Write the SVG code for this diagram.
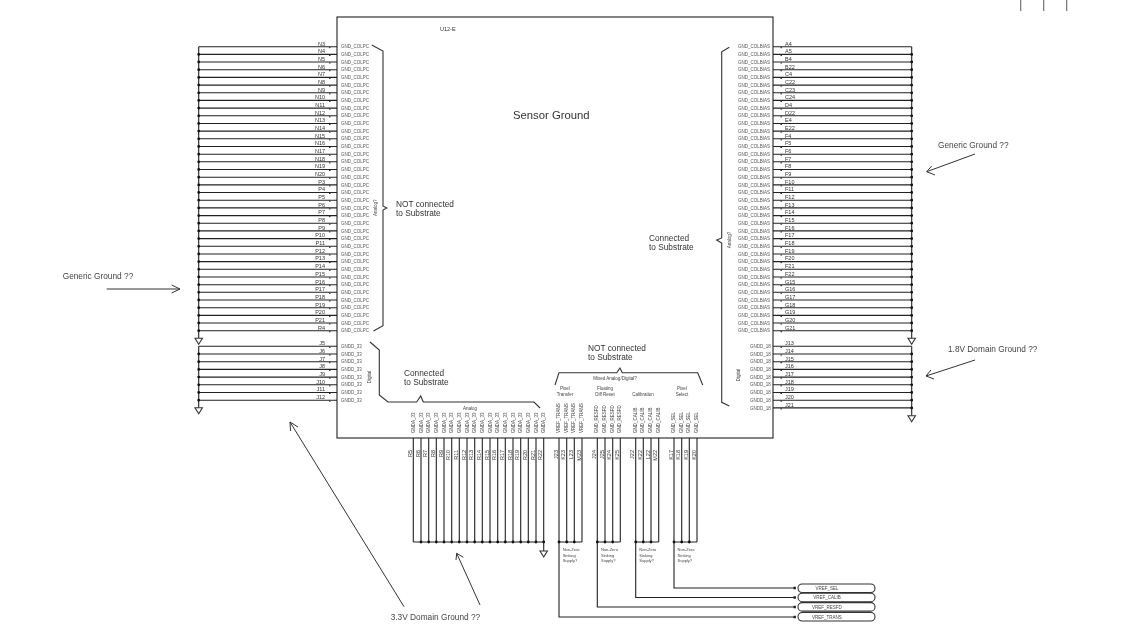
<svg xmlns="http://www.w3.org/2000/svg" width="1140" height="639" viewBox="0 0 1140 639">
<defs><filter id="soft" filterUnits="userSpaceOnUse" x="0" y="0" width="1140" height="639" color-interpolation-filters="sRGB"><feGaussianBlur stdDeviation="0.3"/></filter></defs>
<style>
text{font-family:"Liberation Sans",Arial,sans-serif;fill:#333}
.w{stroke:#222;stroke-width:1.1;fill:none}
.b{stroke:#333;stroke-width:1.1;fill:none}
.d{stroke:#111;stroke-width:2.8;stroke-linecap:round;fill:none}
.t{stroke:#222;stroke-width:1;fill:none}
.g{stroke:#333;stroke-width:1.1;fill:#fff}
.p{font-size:5.5px;fill:#333}
.r{text-anchor:end}
.n{font-size:4.5px;fill:#555}
.m{font-size:4.5px;fill:#444}
.s{font-size:4px;fill:#444}
.c{font-size:4.5px;fill:#444;text-anchor:middle}
.l{font-size:8.300px;fill:#333}
.x{font-size:8.300px;fill:#444}
.a{stroke:#333;stroke-width:1;fill:none}
</style>
<rect width="1140" height="639" fill="#fff"/>
<g filter="url(#soft)">
<g id="connectors">
<g id="left-wires" class="w">
<path d="M198.7 46.7H337M198.7 54.4H337M198.7 62H337M198.7 69.7H337M198.7 77.4H337M198.7 85.1H337M198.7 92.8H337M198.7 100.4H337M198.7 108.1H337M198.7 115.8H337M198.7 123.5H337M198.7 131.1H337M198.7 138.8H337M198.7 146.5H337M198.7 154.2H337M198.7 161.8H337M198.7 169.5H337M198.7 177.2H337M198.7 184.9H337M198.7 192.5H337M198.7 200.2H337M198.7 207.9H337M198.7 215.6H337M198.7 223.2H337M198.7 230.9H337M198.7 238.6H337M198.7 246.3H337M198.7 254H337M198.7 261.6H337M198.7 269.3H337M198.7 277H337M198.7 284.7H337M198.7 292.3H337M198.7 300H337M198.7 307.7H337M198.7 315.4H337M198.7 323H337M198.7 330.7H337"/>
<path d="M198.7 346.3H337M198.7 354H337M198.7 361.7H337M198.7 369.4H337M198.7 377.1H337M198.7 384.8H337M198.7 392.5H337M198.7 400.2H337"/>
<path d="M198.7 46.7V338M198.7 346.3V407.7"/>
</g>
<path class="d" d="M198.7 54.4h0M198.7 62h0M198.7 69.7h0M198.7 77.4h0M198.7 85.1h0M198.7 92.8h0M198.7 100.4h0M198.7 108.1h0M198.7 115.8h0M198.7 123.5h0M198.7 131.1h0M198.7 138.8h0M198.7 146.5h0M198.7 154.2h0M198.7 161.8h0M198.7 169.5h0M198.7 177.2h0M198.7 184.9h0M198.7 192.5h0M198.7 200.2h0M198.7 207.9h0M198.7 215.6h0M198.7 223.2h0M198.7 230.9h0M198.7 238.6h0M198.7 246.3h0M198.7 254h0M198.7 261.6h0M198.7 269.3h0M198.7 277h0M198.7 284.7h0M198.7 292.3h0M198.7 300h0M198.7 307.7h0M198.7 315.4h0M198.7 323h0M198.7 330.7h0M198.7 354h0M198.7 361.7h0M198.7 369.4h0M198.7 377.1h0M198.7 384.8h0M198.7 392.5h0M198.7 400.2h0"/>
<path class="t" d="M329 47.700h1.500M329 55.400h1.500M329 63h1.500M329 70.700h1.500M329 78.400h1.500M329 86.100h1.500M329 93.800h1.500M329 101.400h1.500M329 109.100h1.500M329 116.800h1.500M329 124.500h1.500M329 132.100h1.500M329 139.800h1.500M329 147.500h1.500M329 155.200h1.500M329 162.800h1.500M329 170.500h1.500M329 178.200h1.500M329 185.900h1.500M329 193.500h1.500M329 201.200h1.500M329 208.900h1.500M329 216.600h1.500M329 224.200h1.500M329 231.900h1.500M329 239.600h1.500M329 247.300h1.500M329 255h1.500M329 262.600h1.500M329 270.300h1.500M329 278h1.500M329 285.700h1.500M329 293.300h1.500M329 301h1.500M329 308.700h1.500M329 316.400h1.500M329 324h1.500M329 331.700h1.500M329 347.300h1.500M329 355h1.500M329 362.700h1.500M329 370.400h1.500M329 378.100h1.500M329 385.800h1.500M329 393.500h1.500M329 401.200h1.500"/>
<path class="t" d="M780.500 47.700h1.500M780.500 55.400h1.500M780.500 63h1.500M780.500 70.700h1.500M780.500 78.400h1.500M780.500 86.100h1.500M780.500 93.800h1.500M780.500 101.400h1.500M780.500 109.100h1.500M780.500 116.800h1.500M780.500 124.500h1.500M780.500 132.100h1.500M780.500 139.800h1.500M780.500 147.500h1.500M780.500 155.200h1.500M780.500 162.800h1.500M780.500 170.500h1.500M780.500 178.200h1.500M780.500 185.900h1.500M780.500 193.500h1.500M780.500 201.200h1.500M780.500 208.900h1.500M780.500 216.600h1.500M780.500 224.200h1.500M780.500 231.900h1.500M780.500 239.600h1.500M780.500 247.300h1.500M780.500 255h1.500M780.500 262.600h1.500M780.500 270.300h1.500M780.500 278h1.500M780.500 285.700h1.500M780.500 293.300h1.500M780.500 301h1.500M780.500 308.700h1.500M780.500 316.400h1.500M780.500 324h1.500M780.500 331.700h1.500M780.500 347.300h1.500M780.500 355h1.500M780.500 362.700h1.500M780.500 370.400h1.500M780.500 378.100h1.500M780.500 385.800h1.500M780.500 393.500h1.500M780.500 401.200h1.500M780.500 408.900h1.500"/>
<path class="g" d="M195 338.300h7.400l-3.700 6zM195 407.700h7.400l-3.700 6z"/>
<g id="right-wires" class="w">
<path d="M773 46.7H911.7M773 54.4H911.7M773 62H911.7M773 69.7H911.7M773 77.4H911.7M773 85.1H911.7M773 92.8H911.7M773 100.4H911.7M773 108.1H911.7M773 115.8H911.7M773 123.5H911.7M773 131.1H911.7M773 138.8H911.7M773 146.5H911.7M773 154.2H911.7M773 161.8H911.7M773 169.5H911.7M773 177.2H911.7M773 184.9H911.7M773 192.5H911.7M773 200.2H911.7M773 207.9H911.7M773 215.6H911.7M773 223.2H911.7M773 230.9H911.7M773 238.6H911.7M773 246.3H911.7M773 254H911.7M773 261.6H911.7M773 269.3H911.7M773 277H911.7M773 284.7H911.7M773 292.3H911.7M773 300H911.7M773 307.7H911.7M773 315.4H911.7M773 323H911.7M773 330.7H911.7"/>
<path d="M773 346.3H911.7M773 354H911.7M773 361.7H911.7M773 369.4H911.7M773 377.1H911.7M773 384.8H911.7M773 392.5H911.7M773 400.2H911.7M773 407.9H911.7"/>
<path d="M911.7 46.7V338M911.7 346.3V415.7"/>
</g>
<path class="d" d="M911.7 54.4h0M911.7 62h0M911.7 69.7h0M911.7 77.4h0M911.7 85.1h0M911.7 92.8h0M911.7 100.4h0M911.7 108.1h0M911.7 115.8h0M911.7 123.5h0M911.7 131.1h0M911.7 138.8h0M911.7 146.5h0M911.7 154.2h0M911.7 161.8h0M911.7 169.5h0M911.7 177.2h0M911.7 184.9h0M911.7 192.5h0M911.7 200.2h0M911.7 207.9h0M911.7 215.6h0M911.7 223.2h0M911.7 230.9h0M911.7 238.6h0M911.7 246.3h0M911.7 254h0M911.7 261.6h0M911.7 269.3h0M911.7 277h0M911.7 284.7h0M911.7 292.3h0M911.7 300h0M911.7 307.7h0M911.7 315.4h0M911.7 323h0M911.7 330.7h0M911.7 354h0M911.7 361.7h0M911.7 369.4h0M911.7 377.1h0M911.7 384.8h0M911.7 392.5h0M911.7 400.2h0M911.7 407.9h0"/>
<path class="g" d="M908 338.300h7.400l-3.700 6zM908 415.700h7.400l-3.700 6z"/>
<g id="bottom-wires" class="w">
<path d="M413.3 438V542M421 438V542M428.7 438V542M436.3 438V542M444 438V542M451.7 438V542M459.3 438V542M467 438V542M474.7 438V542M482.3 438V542M490 438V542M497.7 438V542M505.3 438V542M513 438V542M520.7 438V542M528.3 438V542M536 438V542M543.7 438V551M413.3 542H543.7"/>
<path d="M559 438V617H795M566.7 438V542M574.3 438V542M582 438V542M559 542H582"/>
<path d="M597.3 438V607H795M605 438V542M612.7 438V542M620.3 438V542M597.3 542H620.3"/>
<path d="M635.7 438V597.5H795M643.3 438V542M651 438V542M658.7 438V542M635.7 542H658.7"/>
<path d="M674 438V588H795M681.7 438V542M689.3 438V542M697 438V542M674 542H697"/>
</g>
<path class="d" d="M421 542h0M428.7 542h0M436.3 542h0M444 542h0M451.7 542h0M459.3 542h0M467 542h0M474.7 542h0M482.3 542h0M490 542h0M497.7 542h0M505.3 542h0M513 542h0M520.7 542h0M528.3 542h0M536 542h0M543.7 542h0M559 542h0M566.7 542h0M574.3 542h0M597.3 542h0M605 542h0M612.7 542h0M635.7 542h0M643.3 542h0M651 542h0M674 542h0M681.7 542h0M689.3 542h0"/>
<path class="g" d="M540 551h7.400l-3.700 6z"/>
<path d="M793.500 586.800h2.400v2.400h-2.400zM793.500 596.300h2.400v2.400h-2.400zM793.500 605.800h2.400v2.400h-2.400zM793.500 615.800h2.400v2.400h-2.400z" fill="#222"/>
<path class="b" d="M1020.700 0V11M1043.700 0V11M1066.700 0V11" style="stroke:#666"/>
<g id="annotation-arrows" class="a">
<path d="M106.700 289H180M171.700 285L180 289 171.700 293"/>
<path d="M975 154L926.700 171.700M931.700 166L926.700 171.700 935 175"/>
<path d="M975 360L926 376M931 370L926 376 934 379"/>
<path d="M404 606.700L290 422M290.500 431L290 422 298 427"/>
<path d="M480 605L456.700 553.300M456 560L456.700 553.300 463.300 557.300"/>
</g>
<g id="braces" class="b">
<path d="M371.700 45L383 51V206L386.700 208 383 210V325.700L373.500 331"/>
<path d="M370 342L379.300 350V395L388 402H416.700L420.700 396 423.300 402H534L540 408"/>
<path d="M555 385L559 372.700H616.700L620 368 622.300 372.700H697.700L702.700 385"/>
<path d="M729.300 47.300L721.700 51.700V238L716.700 240 721.700 243V402.300L729.300 406"/>
</g>
</g>
<g id="U12-E">
<rect x="337" y="17" width="436" height="421" fill="none" stroke="#222" stroke-width="1.1"/>
<text x="440" y="31" style="font-size:5.500px">U12-E</text>
<text x="513" y="119" style="font-size:11.300px">Sensor Ground</text>
<g>
<text class="p r" x="325" y="45.500">N3</text><text class="p r" x="325" y="53.200">N4</text><text class="p r" x="325" y="60.800">N5</text><text class="p r" x="325" y="68.500">N6</text><text class="p r" x="325" y="76.200">N7</text><text class="p r" x="325" y="83.900">N8</text><text class="p r" x="325" y="91.600">N9</text><text class="p r" x="325" y="99.200">N10</text><text class="p r" x="325" y="106.900">N11</text><text class="p r" x="325" y="114.600">N12</text><text class="p r" x="325" y="122.300">N13</text><text class="p r" x="325" y="129.900">N14</text><text class="p r" x="325" y="137.600">N15</text><text class="p r" x="325" y="145.300">N16</text><text class="p r" x="325" y="153">N17</text><text class="p r" x="325" y="160.600">N18</text><text class="p r" x="325" y="168.300">N19</text><text class="p r" x="325" y="176">N20</text><text class="p r" x="325" y="183.700">P3</text><text class="p r" x="325" y="191.300">P4</text><text class="p r" x="325" y="199">P5</text><text class="p r" x="325" y="206.700">P6</text><text class="p r" x="325" y="214.400">P7</text><text class="p r" x="325" y="222">P8</text><text class="p r" x="325" y="229.700">P9</text><text class="p r" x="325" y="237.400">P10</text><text class="p r" x="325" y="245.100">P11</text><text class="p r" x="325" y="252.800">P12</text><text class="p r" x="325" y="260.400">P13</text><text class="p r" x="325" y="268.100">P14</text><text class="p r" x="325" y="275.800">P15</text><text class="p r" x="325" y="283.500">P16</text><text class="p r" x="325" y="291.100">P17</text><text class="p r" x="325" y="298.800">P18</text><text class="p r" x="325" y="306.500">P19</text><text class="p r" x="325" y="314.200">P20</text><text class="p r" x="325" y="321.800">P21</text><text class="p r" x="325" y="329.500">R4</text>
<text class="p r" x="325" y="345.100">J5</text><text class="p r" x="325" y="352.800">J6</text><text class="p r" x="325" y="360.500">J7</text><text class="p r" x="325" y="368.200">J8</text><text class="p r" x="325" y="375.900">J9</text><text class="p r" x="325" y="383.600">J10</text><text class="p r" x="325" y="391.300">J11</text><text class="p r" x="325" y="399">J12</text>
</g>
<g>
<text class="n" x="341" y="48.300">GND_COLPC</text><text class="n" x="341" y="56">GND_COLPC</text><text class="n" x="341" y="63.600">GND_COLPC</text><text class="n" x="341" y="71.300">GND_COLPC</text><text class="n" x="341" y="79">GND_COLPC</text><text class="n" x="341" y="86.700">GND_COLPC</text><text class="n" x="341" y="94.400">GND_COLPC</text><text class="n" x="341" y="102">GND_COLPC</text><text class="n" x="341" y="109.700">GND_COLPC</text><text class="n" x="341" y="117.400">GND_COLPC</text><text class="n" x="341" y="125.100">GND_COLPC</text><text class="n" x="341" y="132.700">GND_COLPC</text><text class="n" x="341" y="140.400">GND_COLPC</text><text class="n" x="341" y="148.100">GND_COLPC</text><text class="n" x="341" y="155.800">GND_COLPC</text><text class="n" x="341" y="163.400">GND_COLPC</text><text class="n" x="341" y="171.100">GND_COLPC</text><text class="n" x="341" y="178.800">GND_COLPC</text><text class="n" x="341" y="186.500">GND_COLPC</text><text class="n" x="341" y="194.100">GND_COLPC</text><text class="n" x="341" y="201.800">GND_COLPC</text><text class="n" x="341" y="209.500">GND_COLPC</text><text class="n" x="341" y="217.200">GND_COLPC</text><text class="n" x="341" y="224.800">GND_COLPC</text><text class="n" x="341" y="232.500">GND_COLPC</text><text class="n" x="341" y="240.200">GND_COLPC</text><text class="n" x="341" y="247.900">GND_COLPC</text><text class="n" x="341" y="255.600">GND_COLPC</text><text class="n" x="341" y="263.200">GND_COLPC</text><text class="n" x="341" y="270.900">GND_COLPC</text><text class="n" x="341" y="278.600">GND_COLPC</text><text class="n" x="341" y="286.300">GND_COLPC</text><text class="n" x="341" y="293.900">GND_COLPC</text><text class="n" x="341" y="301.600">GND_COLPC</text><text class="n" x="341" y="309.300">GND_COLPC</text><text class="n" x="341" y="317">GND_COLPC</text><text class="n" x="341" y="324.600">GND_COLPC</text><text class="n" x="341" y="332.300">GND_COLPC</text>
<text class="n" x="341" y="347.900">GNDD_33</text><text class="n" x="341" y="355.600">GNDD_33</text><text class="n" x="341" y="363.300">GNDD_33</text><text class="n" x="341" y="371">GNDD_33</text><text class="n" x="341" y="378.700">GNDD_33</text><text class="n" x="341" y="386.400">GNDD_33</text><text class="n" x="341" y="394.100">GNDD_33</text><text class="n" x="341" y="401.800">GNDD_33</text>
</g>
<g>
<text class="p" x="785" y="45.500">A4</text><text class="p" x="785" y="53.200">A5</text><text class="p" x="785" y="60.800">B4</text><text class="p" x="785" y="68.500">B22</text><text class="p" x="785" y="76.200">C4</text><text class="p" x="785" y="83.900">C22</text><text class="p" x="785" y="91.600">C23</text><text class="p" x="785" y="99.200">C24</text><text class="p" x="785" y="106.900">D4</text><text class="p" x="785" y="114.600">D22</text><text class="p" x="785" y="122.300">E4</text><text class="p" x="785" y="129.900">E22</text><text class="p" x="785" y="137.600">F4</text><text class="p" x="785" y="145.300">F5</text><text class="p" x="785" y="153">F6</text><text class="p" x="785" y="160.600">F7</text><text class="p" x="785" y="168.300">F8</text><text class="p" x="785" y="176">F9</text><text class="p" x="785" y="183.700">F10</text><text class="p" x="785" y="191.300">F11</text><text class="p" x="785" y="199">F12</text><text class="p" x="785" y="206.700">F13</text><text class="p" x="785" y="214.400">F14</text><text class="p" x="785" y="222">F15</text><text class="p" x="785" y="229.700">F16</text><text class="p" x="785" y="237.400">F17</text><text class="p" x="785" y="245.100">F18</text><text class="p" x="785" y="252.800">F19</text><text class="p" x="785" y="260.400">F20</text><text class="p" x="785" y="268.100">F21</text><text class="p" x="785" y="275.800">F22</text><text class="p" x="785" y="283.500">G15</text><text class="p" x="785" y="291.100">G16</text><text class="p" x="785" y="298.800">G17</text><text class="p" x="785" y="306.500">G18</text><text class="p" x="785" y="314.200">G19</text><text class="p" x="785" y="321.800">G20</text><text class="p" x="785" y="329.500">G21</text>
<text class="p" x="785" y="345.100">J13</text><text class="p" x="785" y="352.800">J14</text><text class="p" x="785" y="360.500">J15</text><text class="p" x="785" y="368.200">J16</text><text class="p" x="785" y="375.900">J17</text><text class="p" x="785" y="383.600">J18</text><text class="p" x="785" y="391.300">J19</text><text class="p" x="785" y="399">J20</text><text class="p" x="785" y="406.700">J21</text>
</g>
<g>
<text class="n" x="738" y="48.300">GND_COLBIAS</text><text class="n" x="738" y="56">GND_COLBIAS</text><text class="n" x="738" y="63.600">GND_COLBIAS</text><text class="n" x="738" y="71.300">GND_COLBIAS</text><text class="n" x="738" y="79">GND_COLBIAS</text><text class="n" x="738" y="86.700">GND_COLBIAS</text><text class="n" x="738" y="94.400">GND_COLBIAS</text><text class="n" x="738" y="102">GND_COLBIAS</text><text class="n" x="738" y="109.700">GND_COLBIAS</text><text class="n" x="738" y="117.400">GND_COLBIAS</text><text class="n" x="738" y="125.100">GND_COLBIAS</text><text class="n" x="738" y="132.700">GND_COLBIAS</text><text class="n" x="738" y="140.400">GND_COLBIAS</text><text class="n" x="738" y="148.100">GND_COLBIAS</text><text class="n" x="738" y="155.800">GND_COLBIAS</text><text class="n" x="738" y="163.400">GND_COLBIAS</text><text class="n" x="738" y="171.100">GND_COLBIAS</text><text class="n" x="738" y="178.800">GND_COLBIAS</text><text class="n" x="738" y="186.500">GND_COLBIAS</text><text class="n" x="738" y="194.100">GND_COLBIAS</text><text class="n" x="738" y="201.800">GND_COLBIAS</text><text class="n" x="738" y="209.500">GND_COLBIAS</text><text class="n" x="738" y="217.200">GND_COLBIAS</text><text class="n" x="738" y="224.800">GND_COLBIAS</text><text class="n" x="738" y="232.500">GND_COLBIAS</text><text class="n" x="738" y="240.200">GND_COLBIAS</text><text class="n" x="738" y="247.900">GND_COLBIAS</text><text class="n" x="738" y="255.600">GND_COLBIAS</text><text class="n" x="738" y="263.200">GND_COLBIAS</text><text class="n" x="738" y="270.900">GND_COLBIAS</text><text class="n" x="738" y="278.600">GND_COLBIAS</text><text class="n" x="738" y="286.300">GND_COLBIAS</text><text class="n" x="738" y="293.900">GND_COLBIAS</text><text class="n" x="738" y="301.600">GND_COLBIAS</text><text class="n" x="738" y="309.300">GND_COLBIAS</text><text class="n" x="738" y="317">GND_COLBIAS</text><text class="n" x="738" y="324.600">GND_COLBIAS</text><text class="n" x="738" y="332.300">GND_COLBIAS</text>
<text class="n" x="750" y="347.900">GNDD_18</text><text class="n" x="750" y="355.600">GNDD_18</text><text class="n" x="750" y="363.300">GNDD_18</text><text class="n" x="750" y="371">GNDD_18</text><text class="n" x="750" y="378.700">GNDD_18</text><text class="n" x="750" y="386.400">GNDD_18</text><text class="n" x="750" y="394.100">GNDD_18</text><text class="n" x="750" y="401.800">GNDD_18</text><text class="n" x="750" y="409.500">GNDD_18</text>
</g>
<g id="bottom-gnd-names">
<text class="m" transform="translate(414.800 433) rotate(-90)">GNDA_33</text><text class="m" transform="translate(422.500 433) rotate(-90)">GNDA_33</text><text class="m" transform="translate(430.200 433) rotate(-90)">GNDA_33</text><text class="m" transform="translate(437.800 433) rotate(-90)">GNDA_33</text><text class="m" transform="translate(445.500 433) rotate(-90)">GNDA_33</text><text class="m" transform="translate(453.200 433) rotate(-90)">GNDA_33</text><text class="m" transform="translate(460.800 433) rotate(-90)">GNDA_33</text><text class="m" transform="translate(468.500 433) rotate(-90)">GNDA_33</text><text class="m" transform="translate(476.200 433) rotate(-90)">GNDA_33</text><text class="m" transform="translate(483.800 433) rotate(-90)">GNDA_33</text><text class="m" transform="translate(491.500 433) rotate(-90)">GNDA_33</text><text class="m" transform="translate(499.200 433) rotate(-90)">GNDA_33</text><text class="m" transform="translate(506.800 433) rotate(-90)">GNDA_33</text><text class="m" transform="translate(514.500 433) rotate(-90)">GNDA_33</text><text class="m" transform="translate(522.200 433) rotate(-90)">GNDA_33</text><text class="m" transform="translate(529.800 433) rotate(-90)">GNDA_33</text><text class="m" transform="translate(537.500 433) rotate(-90)">GNDA_33</text><text class="m" transform="translate(545.200 433) rotate(-90)">GNDA_33</text>
<text class="m" transform="translate(560 433) rotate(-90)">VREF_TRANS</text><text class="m" transform="translate(567.700 433) rotate(-90)">VREF_TRANS</text><text class="m" transform="translate(575.300 433) rotate(-90)">VREF_TRANS</text><text class="m" transform="translate(583 433) rotate(-90)">VREF_TRANS</text>
<text class="m" transform="translate(598.300 433) rotate(-90)">GND_RESFD</text><text class="m" transform="translate(606 433) rotate(-90)">GND_RESFD</text><text class="m" transform="translate(613.700 433) rotate(-90)">GND_RESFD</text><text class="m" transform="translate(621.300 433) rotate(-90)">GND_RESFD</text>
<text class="m" transform="translate(636.700 433) rotate(-90)">GND_CALIB</text><text class="m" transform="translate(644.300 433) rotate(-90)">GND_CALIB</text><text class="m" transform="translate(652 433) rotate(-90)">GND_CALIB</text><text class="m" transform="translate(659.700 433) rotate(-90)">GND_CALIB</text>
<text class="m" transform="translate(675 433) rotate(-90)">GND_SEL</text><text class="m" transform="translate(682.700 433) rotate(-90)">GND_SEL</text><text class="m" transform="translate(690.300 433) rotate(-90)">GND_SEL</text><text class="m" transform="translate(698 433) rotate(-90)">GND_SEL</text>
</g>
<g id="bottom-pin-names">
<text class="p r" transform="translate(411.800 450) rotate(-90)">R5</text><text class="p r" transform="translate(419.500 450) rotate(-90)">R6</text><text class="p r" transform="translate(427.200 450) rotate(-90)">R7</text><text class="p r" transform="translate(434.800 450) rotate(-90)">R8</text><text class="p r" transform="translate(442.500 450) rotate(-90)">R9</text><text class="p r" transform="translate(450.200 450) rotate(-90)">R10</text><text class="p r" transform="translate(457.800 450) rotate(-90)">R11</text><text class="p r" transform="translate(465.500 450) rotate(-90)">R12</text><text class="p r" transform="translate(473.200 450) rotate(-90)">R13</text><text class="p r" transform="translate(480.800 450) rotate(-90)">R14</text><text class="p r" transform="translate(488.500 450) rotate(-90)">R15</text><text class="p r" transform="translate(496.200 450) rotate(-90)">R16</text><text class="p r" transform="translate(503.800 450) rotate(-90)">R17</text><text class="p r" transform="translate(511.500 450) rotate(-90)">R18</text><text class="p r" transform="translate(519.200 450) rotate(-90)">R19</text><text class="p r" transform="translate(526.800 450) rotate(-90)">R20</text><text class="p r" transform="translate(534.500 450) rotate(-90)">R21</text><text class="p r" transform="translate(542.200 450) rotate(-90)">R22</text>
<text class="p r" transform="translate(557.500 450) rotate(-90)">J23</text><text class="p r" transform="translate(565.200 450) rotate(-90)">K23</text><text class="p r" transform="translate(572.800 450) rotate(-90)">L23</text><text class="p r" transform="translate(580.500 450) rotate(-90)">M23</text>
<text class="p r" transform="translate(595.800 450) rotate(-90)">J24</text><text class="p r" transform="translate(603.500 450) rotate(-90)">J25</text><text class="p r" transform="translate(611.200 450) rotate(-90)">K24</text><text class="p r" transform="translate(618.800 450) rotate(-90)">K25</text>
<text class="p r" transform="translate(634.200 450) rotate(-90)">J22</text><text class="p r" transform="translate(641.800 450) rotate(-90)">K22</text><text class="p r" transform="translate(649.500 450) rotate(-90)">L22</text><text class="p r" transform="translate(657.200 450) rotate(-90)">M22</text>
<text class="p r" transform="translate(672.500 450) rotate(-90)">K17</text><text class="p r" transform="translate(680.200 450) rotate(-90)">K18</text><text class="p r" transform="translate(687.800 450) rotate(-90)">K19</text><text class="p r" transform="translate(695.500 450) rotate(-90)">K20</text>
</g>
<text class="c" transform="translate(376.500 207.700) rotate(-90)">Analog?</text>
<text class="c" transform="translate(370.500 377) rotate(-90)">Digital</text>
<text class="c" transform="translate(730.500 240) rotate(-90)">Analog?</text>
<text class="c" transform="translate(739.500 375) rotate(-90)">Digital</text>
<text class="c" x="470" y="409.500">Analog</text>
<text class="c" x="615" y="380">Mixed Analog/Digital?</text>
<text class="c" x="565" y="390">Pixel</text><text class="c" x="565" y="395.500">Transfer</text>
<text class="c" x="605" y="390">Floating</text><text class="c" x="605" y="395.500">Diff Reset</text>
<text class="c" x="643" y="395.500">Calibration</text>
<text class="c" x="682" y="390">Pixel</text><text class="c" x="682" y="395.500">Select</text>
<text class="l" x="396" y="207">NOT connected</text><text class="l" x="396" y="216">to Substrate</text>
<text class="l" x="649" y="241">Connected</text><text class="l" x="649" y="249.800">to Substrate</text>
<text class="l" x="404" y="376">Connected</text><text class="l" x="404" y="384.800">to Substrate</text>
<text class="l" x="588" y="351">NOT connected</text><text class="l" x="588" y="359.800">to Substrate</text>
</g>
<g id="sinking-notes">
<text class="s" x="562.700" y="551">Non-Zero</text><text class="s" x="562.700" y="556.500">Sinking</text><text class="s" x="562.700" y="562">Supply?</text>
<text class="s" x="601" y="551">Non-Zero</text><text class="s" x="601" y="556.500">Sinking</text><text class="s" x="601" y="562">Supply?</text>
<text class="s" x="639.300" y="551">Non-Zero</text><text class="s" x="639.300" y="556.500">Sinking</text><text class="s" x="639.300" y="562">Supply?</text>
<text class="s" x="677.600" y="551">Non-Zero</text><text class="s" x="677.600" y="556.500">Sinking</text><text class="s" x="677.600" y="562">Supply?</text>
</g>
<g id="VREF_SEL"><rect class="g" x="798" y="584" width="77" height="8.500" rx="4.200"/><text class="c" x="827" y="590">VREF_SEL</text></g>
<g id="VREF_CALIB"><rect class="g" x="798" y="593.200" width="77" height="8.500" rx="4.200"/><text class="c" x="827" y="599.300">VREF_CALIB</text></g>
<g id="VREF_RESFD"><rect class="g" x="798" y="602.600" width="77" height="8.500" rx="4.200"/><text class="c" x="827" y="608.700">VREF_RESFD</text></g>
<g id="VREF_TRANS"><rect class="g" x="798" y="612.500" width="77" height="8.500" rx="4.200"/><text class="c" x="827" y="618.600">VREF_TRANS</text></g>
<g id="generic-ground-left"><text class="x" x="62.700" y="279">Generic Ground ??</text></g>
<g id="generic-ground-right"><text class="x" x="938" y="148">Generic Ground ??</text></g>
<g id="domain-18"><text class="x" x="948" y="352">1.8V Domain Ground ??</text></g>
<g id="domain-33"><text class="x" x="390.700" y="619.500">3.3V Domain Ground ??</text></g>
</g>
</svg>
